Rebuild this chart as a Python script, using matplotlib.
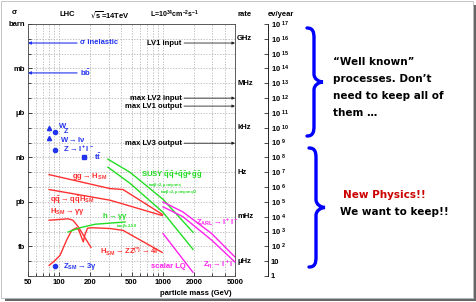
import matplotlib
matplotlib.use("Agg")
import matplotlib.pyplot as plt
from matplotlib.patches import Rectangle, PathPatch
from matplotlib.path import Path
from matplotlib.ticker import NullFormatter

plt.rcParams["font.family"] = ["Liberation Sans", "DejaVu Sans"]
plt.rcParams["mathtext.default"] = "regular"

# cross sections in barn, masses in GeV
sig_inel = 0.052
sig_bb = 5e-4
mass_arrow_end = 149

pt_mass = [80, 91, 80, 91, 175]
pt_sigma = [1e-7, 4.8e-8, 1.9e-8, 3.4e-9, 1e-9]
pt_marker = ["^", "o", "^", "o", "s"]
z3g_mass, z3g_sigma = 91, 4.5e-17

ggh_mass = [80, 310, 414, 990]
ggh_sigma = [6.9e-11, 7.9e-12, 6.8e-12, 1.45e-13]
qqh_mass = [80, 310, 990]
qqh_sigma = [6.8e-12, 1.3e-12, 1.2e-13]
hgg_mass = [80, 102, 122, 136, 152, 174, 203]
hgg_sigma = [5.75e-14, 6.6e-14, 7.2e-14, 5.75e-14, 2.2e-14, 4.8e-15, 8.5e-16]
hzz_mass = [80, 91, 102, 118, 132, 148, 155, 171, 178, 188, 206, 310, 414, 990]
hzz_sigma = [5.2e-17, 1.1e-16, 2.5e-16, 2.6e-15, 1.2e-14, 1.8e-14, 1.2e-14,
             2.0e-15, 6.5e-15, 1.66e-14, 1.8e-14, 1.6e-14, 1.2e-14, 3.9e-16]

mssm_h_mass = [122, 159, 222, 433]
mssm_h_sigma = [9.3e-15, 1.8e-14, 3.1e-14, 4.4e-14]
susy1_mass = [296, 483, 1007, 1964]
susy1_sigma = [7.6e-10, 1e-10, 1.5e-12, 8.9e-15]
susy2_mass = [296, 483, 1007, 1964]
susy2_sigma = [2.2e-10, 1.8e-11, 2.0e-13, 6.3e-16]

zarl_mass = [1010, 1570, 2980, 5000]
zarl_sigma = [9.8e-13, 2.1e-13, 7.2e-15, 1.9e-16]
zeta_mass = [1010, 1570, 2980, 5000]
zeta_sigma = [4.6e-13, 1e-13, 2.6e-15, 8.7e-17]
lq_mass = [1010, 1960]
lq_sigma = [7.2e-15, 1.8e-17]

trig_names = ["LV1 input", "max LV2 input", "max LV1 output", "max LV3 output"]
trig_sigma = [0.052, 1e-5, 2.9e-6, 9.1e-9]
trig_start = 1608

y_units = ["barn", "mb", "\u03bcb", "nb", "pb", "fb"]
y_unit_vals = [1, 1e-3, 1e-6, 1e-9, 1e-12, 1e-15]
rate_names = ["GHz", "MHz", "kHz", "Hz", "mHz", "\u03bcHz"]
rate_vals = [1e-1, 1e-4, 1e-7, 1e-10, 1e-13, 1e-16]
x_major = [50, 100, 200, 500, 1000, 2000, 5000]
x_minor = [60, 70, 80, 90, 300, 400, 600, 700, 800, 900, 3000, 4000]

RED = "#ff3030"
GREEN = "#22dd22"
MAG = "#ff22ee"
BLUE = "#2233ee"
W, H = 477, 302


def frac(x0, y0, x1, y1):
    return [x0 / W, 1 - y1 / H, (x1 - x0) / W, (y1 - y0) / H]


fig = plt.figure(figsize=(W / 100, H / 100), dpi=100)

# background panel with drop shadow
bg = fig.add_axes([0, 0, 1, 1])
bg.set_xlim(0, W)
bg.set_ylim(H, 0)
bg.axis("off")
bg.add_patch(Rectangle((5, 5), 471, 296, color="#666666", lw=0))
bg.add_patch(Rectangle((0.5, 0.5), 473, 297, facecolor="white",
                       edgecolor="#bbbbbb", lw=0.6))

ax = fig.add_axes(frac(28, 24, 235, 276))
ax.set_facecolor("none")
ax.set_xscale("log")
ax.set_yscale("log")
ax.set_xlim(50, 5000)
ax.set_ylim(1e-17, 1)

ax.set_xticks(x_major)
ax.set_xticklabels([str(v) for v in x_major])
ax.set_xticks(x_minor, minor=True)
ax.xaxis.set_minor_formatter(NullFormatter())
ax.set_yticks(y_unit_vals)
ax.set_yticklabels(y_units)
ax.set_yticks([10.0 ** k for k in range(-17, 1)], minor=True)
ax.yaxis.set_minor_formatter(NullFormatter())
ax.tick_params(which="both", direction="in", labelsize=5.5, width=0.5,
               top=False, right=False)
ax.tick_params(which="major", length=3, pad=2)
ax.tick_params(which="minor", length=2)
for lab in ax.get_xticklabels() + ax.get_yticklabels():
    lab.set_fontweight("bold")
ax.grid(True, which="both", color="#aaaaaa", lw=0.5, ls=(0, (2, 2)))
for s in ax.spines.values():
    s.set_linewidth(0.6)
    s.set_color("#444444")
ax.set_xlabel("particle mass (GeV)", fontsize=5.5, fontweight="bold",
              labelpad=3)
ax.xaxis.set_label_coords(0.81, -0.055)

# known processes
for s in (sig_inel, sig_bb):
    ax.annotate("", xy=(50, s), xytext=(mass_arrow_end, s),
                arrowprops=dict(arrowstyle="-|>", color=BLUE, lw=0.8,
                                mutation_scale=4, shrinkA=0, shrinkB=0))
for m, s, mk in zip(pt_mass, pt_sigma, pt_marker):
    ax.plot(m, s, marker=mk, color=BLUE, ms=3, ls="none")
ax.plot(z3g_mass, z3g_sigma, marker="o", color=BLUE, ms=3, ls="none")

# Higgs and new physics
ax.plot(ggh_mass, ggh_sigma, color=RED, lw=1)
ax.plot(qqh_mass, qqh_sigma, color=RED, lw=1)
ax.plot(hgg_mass, hgg_sigma, color=RED, lw=1)
ax.plot(hzz_mass, hzz_sigma, color=RED, lw=1)
ax.plot(mssm_h_mass, mssm_h_sigma, color=GREEN, lw=1)
ax.plot(susy1_mass, susy1_sigma, color=GREEN, lw=1)
ax.plot(susy2_mass, susy2_sigma, color=GREEN, lw=1)
ax.plot(zarl_mass, zarl_sigma, color=MAG, lw=1)
ax.plot(zeta_mass, zeta_sigma, color=MAG, lw=1)
ax.plot(lq_mass, lq_sigma, color=MAG, lw=1)

# trigger levels
for s in trig_sigma:
    ax.annotate("", xy=(5000, s), xytext=(trig_start, s),
                arrowprops=dict(arrowstyle="-|>", color="#222222", lw=0.6,
                                mutation_scale=4, shrinkA=0, shrinkB=0))
for name, s in zip(trig_names, trig_sigma):
    ax.text(1530, s, name, ha="right", va="center", fontsize=5.5,
            fontweight="bold")
for name, s in zip(rate_names, rate_vals):
    ax.text(1.01, s, name, transform=ax.get_yaxis_transform(), ha="left",
            va="center", fontsize=5.5, fontweight="bold")

# events per year axis (L = 1e34 cm^-2 s^-1, one year = 1e7 s)
ev = fig.add_axes(frac(265, 24, 268, 276))
ev.set_yscale("log")
ev.set_ylim(1, 1e17)
ev.set_xticks([])
for k in ("left", "top", "bottom"):
    ev.spines[k].set_visible(False)
ev.spines["right"].set_linewidth(0.6)
ev.yaxis.tick_right()
ev.set_yticks([10.0 ** k for k in range(0, 18)])
ev.set_yticklabels(["1", "10"] + [r"10$^{\ %d}$" % k for k in range(2, 18)])
ev.yaxis.set_minor_formatter(NullFormatter())
ev.tick_params(which="major", direction="in", length=3, width=0.5, pad=2,
               labelsize=5.5)
ev.tick_params(which="minor", direction="in", length=1.5, width=0.4)
for lab in ev.get_yticklabels():
    lab.set_fontweight("bold")

# overlay for labels, braces and comments
ov = fig.add_axes([0, 0, 1, 1])
ov.set_xlim(0, W)
ov.set_ylim(H, 0)
ov.axis("off")
ov.patch.set_visible(False)


def lab(x, y, t, c="black", fs=5.5, ha="left"):
    ov.text(x, y, t, color=c, fontsize=fs, fontweight="bold", ha=ha,
            va="center")


lab(14, 13, "\u03c3", ha="center")
lab(60, 15, "LHC")
lab(90, 15, r"$\sqrt{s}$=14TeV")
lab(150, 14, r"L=10$^{34}$cm$^{-2}$s$^{-1}$", fs=5)
lab(245, 14, "rate", ha="center")
lab(281, 14, "ev/year", ha="center")

lab(80, 43, "\u03c3 inelastic", BLUE)
lab(80, 73, r"b$\bar{b}$", BLUE)
lab(59, 126, "W", BLUE)
lab(64, 131.5, "Z", BLUE, fs=5)
lab(60, 139, r"W$\rightarrow$l$\nu$", BLUE)
lab(63, 149, r"Z$\rightarrow$l$^+$l$^-$", BLUE)
lab(94, 157, r"t$\bar{t}$", BLUE)
lab(63, 266, r"Z$_{SM}$$\rightarrow$3$\gamma$", BLUE)

lab(72, 177, r"gg$\rightarrow$H$_{SM}$", RED)
lab(50, 200, r"q$\bar{q}$$\rightarrow$q$\bar{q}$H$_{SM}$", RED)
lab(50, 211.5, r"H$_{SM}$$\rightarrow$$\gamma\gamma$", RED)
lab(100, 252, r"H$_{SM}$$\rightarrow$ZZ$^{(*)}$$\rightarrow$4l", RED)

lab(102, 217, r"h$\rightarrow$$\gamma\gamma$", GREEN)
lab(116, 226, r"tan$\beta$=2-50", GREEN, fs=3)
lab(141, 175, r"SUSY $\tilde{q}\tilde{q}$+$\tilde{q}\tilde{g}$+$\tilde{g}\tilde{g}$",
    GREEN)
lab(148, 185.5, r"tan$\beta$=2, $\mu$=m$_{g}$=m$_{q}$", GREEN, fs=2.8)
lab(160, 193, r"tan$\beta$=2, $\mu$=m$_{g}$=m$_{q}$/2", GREEN, fs=2.8)

lab(196, 222, r"Z$_{ARL}$$\rightarrow$l$^+$l$^-$", MAG)
lab(203, 265, r"Z$_{\eta}$$\rightarrow$l$^+$l$^-$", MAG)
lab(151, 267, "scalar LQ", MAG)


def brace(x, y0, y1, tip):
    ym = (y0 + y1) / 2
    verts = [(x - 7, y0),
             (x - 1, y0), (x, y0 + 4), (x, y0 + 10),
             (x, ym - 8),
             (x, ym - 3), (tip - 4, ym), (tip, ym),
             (tip - 4, ym), (x, ym + 3), (x, ym + 8),
             (x, y1 - 10),
             (x, y1 - 4), (x - 1, y1), (x - 7, y1)]
    codes = [Path.MOVETO] + [Path.CURVE4] * 3 + [Path.LINETO] + \
        [Path.CURVE4] * 6 + [Path.LINETO] + [Path.CURVE4] * 3
    ov.add_patch(PathPatch(Path(verts, codes), fill=False,
                           edgecolor="#0000ff", lw=2.4, capstyle="round"))


brace(314, 28, 136, 323)
brace(316, 148, 267, 325)

CF = "DejaVu Sans"
for i, line in enumerate(["\u201cWell known\u201d", "processes. Don\u2019t",
                          "need to keep all of", "them \u2026"]):
    ov.text(333, 62 + i * 17, line, fontsize=7.5, fontweight="bold",
            family=CF, va="center")
ov.text(343, 195, "New Physics!!", color="#cc0000", fontsize=7.5,
        fontweight="bold", family=CF, va="center")
ov.text(340, 212, "We want to keep!!", fontsize=7.5, fontweight="bold",
        family=CF, va="center")

fig.savefig("out.png", dpi=100)
